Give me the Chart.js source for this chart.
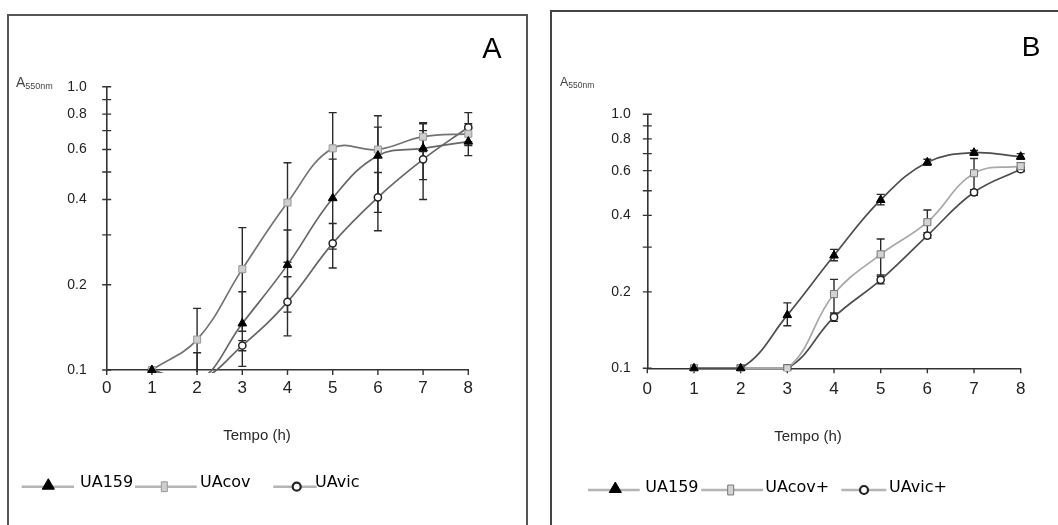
<!DOCTYPE html>
<html><head><meta charset="utf-8">
<script src="https://cdn.jsdelivr.net/npm/chart.js@4"></script>
<style>
html,body{margin:0;padding:0;background:#fff;width:1058px;height:525px;overflow:hidden;}
.box{position:absolute;box-sizing:border-box;}
#boxA{left:7px;top:14px;width:521px;height:540px;border:2px solid #555;}
#boxB{left:550px;top:10px;width:540px;height:540px;border:2px solid #444;}
canvas{position:absolute;}
#cA{left:9px;top:16px;}
#cB{left:552px;top:12px;}
.lbl{position:absolute;font-family:"Liberation Sans Narrow","Liberation Sans",Arial,sans-serif;color:#2a2a2a;white-space:nowrap;line-height:1;}
.ctr{transform:translate(-50%,-50%);}
.big{font-family:"Liberation Sans",Arial,sans-serif;color:#000;}
sub{vertical-align:baseline;position:relative;top:0.25em;}
</style></head>
<body>
<div class="box" id="boxA"></div>
<div class="box" id="boxB"></div>
<canvas id="cA" width="517" height="509"></canvas>
<canvas id="cB" width="506" height="513"></canvas>
<div class="lbl big ctr" style="left:492px;top:48px;font-size:29px;">A</div>
<div class="lbl big ctr" style="left:1031px;top:47px;font-size:28px;">B</div>
<div class="lbl" style="left:16px;top:75px;font-size:14px;color:#444;">A<sub style="font-size:9px;">550nm</sub></div>
<div class="lbl" style="left:560px;top:76px;font-size:12.5px;color:#444;">A<sub style="font-size:8.5px;">550nm</sub></div>
<div class="lbl ctr" style="left:257px;top:434px;font-size:15px;">Tempo (h)</div>
<div class="lbl ctr" style="left:808px;top:435px;font-size:15px;">Tempo (h)</div>
<script>
// ---- shared axes ----
const hours = [1, 2, 3, 4, 5, 6, 7, 8];
const xTickValues = [0, 1, 2, 3, 4, 5, 6, 7, 8];
const xTickLabels = ['0', '1', '2', '3', '4', '5', '6', '7', '8'];
const yTickValues = [0.1, 0.2, 0.3, 0.4, 0.5, 0.6, 0.7, 0.8, 0.9, 1.0];
const yTickLabels = ['0.1', '0.2', '', '0.4', '', '0.6', '', '0.8', '', '1.0'];

// ---- panel A ----
const namesA = ['UA159', 'UAcov', 'UAvic'];
const ua159A = [0.1, 0.091, 0.146, 0.235, 0.404, 0.571, 0.606, 0.64];
const uacovA = [0.1, 0.128, 0.227, 0.39, 0.606, 0.6, 0.666, 0.682];
const uavicA = [0.1, 0.092, 0.122, 0.174, 0.28, 0.407, 0.554, 0.719];
const ua159A_err = [null, [0.065, 0.115], [0.103, 0.189], [0.16, 0.312], [0.267, 0.555], [0.36, 0.72], [0.47, 0.74], [0.571, 0.71]];
const uacovA_err = [null, [0.09, 0.165], [0.137, 0.318], [0.24, 0.539], [0.40, 0.81], [0.41, 0.79], [0.59, 0.746], [0.62, 0.74]];
const uavicA_err = [null, null, [0.117, 0.127], [0.132, 0.2135], [0.229, 0.329], [0.31, 0.498], [0.40, 0.70], [0.64, 0.81]];

// ---- panel B ----
const namesB = ['UA159', 'UAcov+', 'UAvic+'];
const ua159B = [0.1, 0.1, 0.162, 0.278, 0.46, 0.647, 0.706, 0.681];
const uacovB = [0.1, 0.1, 0.1, 0.196, 0.281, 0.376, 0.586, 0.625];
const uavicB = [0.1, 0.1, 0.1, 0.159, 0.223, 0.333, 0.493, 0.608];
const ua159B_err = [null, null, [0.147, 0.181], [0.265, 0.294], [0.44, 0.484], [0.63, 0.665], [0.69, 0.72], [0.665, 0.70]];
const uacovB_err = [null, [0.097, 0.103], [0.097, 0.103], [0.162, 0.224], [0.233, 0.323], [0.335, 0.42], [0.495, 0.67], [0.6, 0.645]];
const uavicB_err = [null, null, null, [0.153, 0.165], [0.215, 0.23], [0.325, 0.342], [0.48, 0.505], [0.595, 0.62]];

const toPts = (vals) => hours.map((h, i) => ({x: h, y: vals[i]}));

const errorBars = {
  id: 'errorBars',
  beforeDatasetsDraw(chart) {
    const {ctx, chartArea: a, scales: {x, y}} = chart;
    ctx.save();
    ctx.beginPath();
    ctx.rect(a.left - 8, a.top - 8, a.right - a.left + 16, a.bottom - a.top + 10);
    ctx.clip();
    ctx.strokeStyle = '#2a2a2a';
    ctx.lineWidth = 1.4;
    chart.data.datasets.forEach(ds => {
      (ds.errors || []).forEach((e, i) => {
        if (!e) return;
        const px = x.getPixelForValue(hours[i]);
        const y0 = y.getPixelForValue(e[0]);
        const y1 = y.getPixelForValue(e[1]);
        ctx.beginPath();
        ctx.moveTo(px, y0); ctx.lineTo(px, y1);
        ctx.moveTo(px - 4, y0); ctx.lineTo(px + 4, y0);
        ctx.moveTo(px - 4, y1); ctx.lineTo(px + 4, y1);
        ctx.stroke();
      });
    });
    ctx.restore();
  }
};

const crossTicks = {
  id: 'crossTicks',
  beforeDatasetsDraw(chart) {
    const {ctx, scales: {x, y}} = chart;
    ctx.save();
    ctx.strokeStyle = '#333';
    ctx.lineWidth = 1.4;
    ctx.beginPath();
    yTickValues.forEach(v => {
      const py = y.getPixelForValue(v);
      ctx.moveTo(x.left - 4.5, py); ctx.lineTo(x.left + 4.5, py);
    });
    xTickValues.forEach(v => {
      const px = x.getPixelForValue(v);
      ctx.moveTo(px, y.bottom); ctx.lineTo(px, y.bottom + 5);
    });
    ctx.stroke();
    ctx.restore();
  }
};

const lineLegend = {
  id: 'lineLegend',
  afterDraw(chart, args, opts) {
    const ctx = chart.ctx;
    ctx.save();
    chart.data.datasets.forEach((ds, i) => {
      const it = opts.items[i];
      ctx.strokeStyle = opts.lineColor;
      ctx.lineWidth = 2.5;
      ctx.beginPath(); ctx.moveTo(it.x0, it.y); ctx.lineTo(it.x1, it.y); ctx.stroke();
      ctx.fillStyle = ds.pointBackgroundColor;
      ctx.strokeStyle = ds.pointBorderColor;
      const st = ds.pointStyle;
      const r = st === 'rect' ? 7 : (st === 'triangle' ? 7 : 4);
      ctx.lineWidth = st === 'circle' ? 2.2 : ds.pointBorderWidth;
      Chart.helpers.drawPointLegend(ctx, {pointStyle: st, radius: r,
        borderWidth: ctx.lineWidth, rotation: 0}, it.mx, st === 'triangle' ? it.y - 1 : it.y, st === 'rect' ? 6 : undefined);
      ctx.fillStyle = '#000';
      ctx.font = '16px "DejaVu Sans", sans-serif';
      ctx.textBaseline = 'middle';
      ctx.textAlign = 'left';
      ctx.fillText(ds.label, it.tx, it.ty);
    });
    ctx.restore();
  }
};

function makeChart(id, names, vals, errs, styles, geo) {
  const datasets = names.map((n, i) => Object.assign({
    label: n,
    data: toPts(vals[i]),
    errors: errs[i],
    borderWidth: 1.7,
    tension: 0.4,
    fill: false,
    clip: {left: 8, right: 8, top: 8, bottom: 3},
    pointHoverRadius: 0
  }, styles[i]));
  return new Chart(document.getElementById(id), {
    type: 'line',
    data: {datasets},
    plugins: [errorBars, crossTicks, lineLegend],
    options: {
      responsive: false,
      animation: false,
      events: [],
      layout: {padding: {left: 0, top: geo.top, right: geo.right, bottom: 0}},
      plugins: {
        legend: {display: false},
        tooltip: {enabled: false},
        lineLegend: {items: geo.legend, lineColor: '#b4b4b4'}
      },
      scales: {
        x: {
          type: 'linear', min: 0, max: 8,
          afterBuildTicks: s => { s.ticks = xTickValues.map(v => ({value: v})); },
          afterFit: s => { s.height = geo.xh; },
          ticks: {callback: (v, i) => xTickLabels[i], color: '#222', padding: geo.xpad,
            font: {family: '"Liberation Sans Narrow","Liberation Sans",Arial,sans-serif', size: 17}},
          grid: {display: false, drawTicks: false},
          border: {display: true, color: '#333', width: 1.6}
        },
        y: {
          type: 'logarithmic', min: 0.1, max: 1.0,
          afterBuildTicks: s => { s.ticks = yTickValues.map(v => ({value: v})); },
          afterFit: s => { s.width = geo.yw; },
          ticks: {autoSkip: false, callback: (v, i) => yTickLabels[i], color: '#222', padding: geo.ypad,
            font: {family: '"Liberation Sans Narrow","Liberation Sans",Arial,sans-serif', size: 14}},
          grid: {display: false, drawTicks: false},
          border: {display: true, color: '#333', width: 1.6}
        }
      }
    }
  });
}

makeChart('cA', namesA, [ua159A, uacovA, uavicA], [ua159A_err, uacovA_err, uavicA_err], [
  {borderColor: '#666', pointStyle: 'triangle', pointRadius: 5, pointBackgroundColor: '#000', pointBorderColor: '#000', pointBorderWidth: 1},
  {borderColor: '#737373', pointStyle: 'rect', pointRadius: 5, pointBackgroundColor: '#cdcdcd', pointBorderColor: '#999', pointBorderWidth: 1},
  {borderColor: '#666', pointStyle: 'circle', pointRadius: 3.6, pointBackgroundColor: '#fff', pointBorderColor: '#222', pointBorderWidth: 1.5}
], {top: 70.7, right: 57.7, xh: 155, yw: 97.7, xpad: 8, ypad: 20,
  legend: [
    {x0: 12.7, x1: 65, mx: 39.3, y: 470.7, tx: 71, ty: 466.7},
    {x0: 126, x1: 187.7, mx: 155.3, y: 470.7, tx: 191, ty: 466.7},
    {x0: 264.3, x1: 307.7, mx: 287.7, y: 470.7, tx: 306, ty: 466.7}
  ]});

makeChart('cB', namesB, [ua159B, uacovB, uavicB], [ua159B_err, uacovB_err, uavicB_err], [
  {borderColor: '#4d4d4d', pointStyle: 'triangle', pointRadius: 5, pointBackgroundColor: '#000', pointBorderColor: '#000', pointBorderWidth: 1},
  {borderColor: '#a8a8a8', pointStyle: 'rect', pointRadius: 5, pointBackgroundColor: '#d4d4d4', pointBorderColor: '#777', pointBorderWidth: 1},
  {borderColor: '#4d4d4d', pointStyle: 'circle', pointRadius: 3.6, pointBackgroundColor: '#fff', pointBorderColor: '#222', pointBorderWidth: 1.5}
], {top: 102.3, right: 37.3, xh: 156.7, yw: 95.3, xpad: 11, ypad: 16.6,
  legend: [
    {x0: 36, x1: 87.7, mx: 63.3, y: 478, tx: 93.3, ty: 476},
    {x0: 149.3, x1: 211, mx: 178.7, y: 478, tx: 213.3, ty: 476},
    {x0: 289.3, x1: 334.3, mx: 312, y: 478, tx: 337, ty: 476}
  ]});
</script>
</body></html>
